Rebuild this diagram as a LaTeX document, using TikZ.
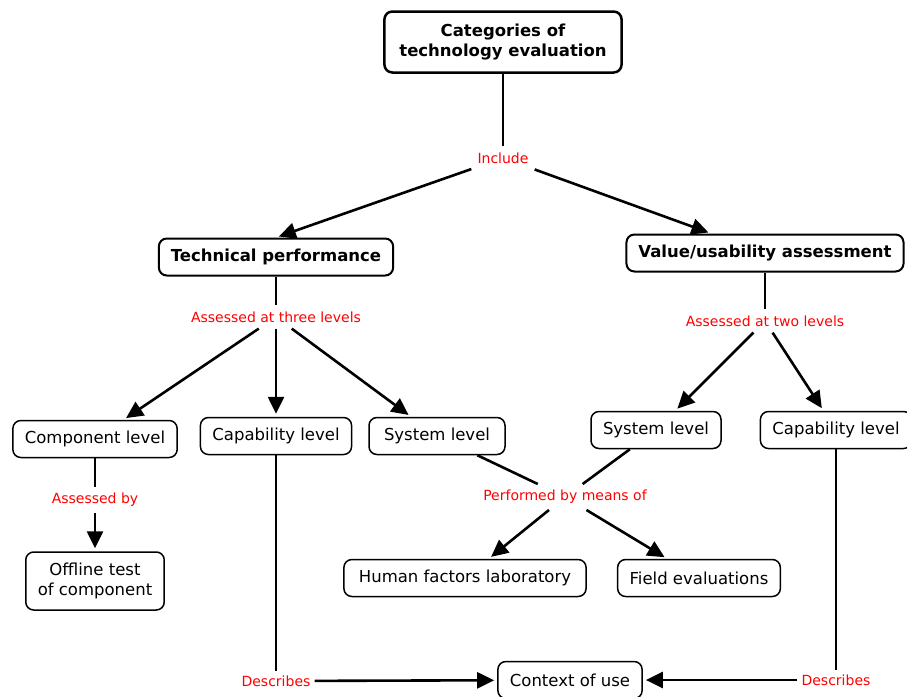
\documentclass[tikz,border=0pt]{standalone}
\usepackage{fontspec}
\setmainfont{DejaVu Sans}
\usetikzlibrary{arrows.meta}
\tikzset{>={Triangle[length=17pt,width=16pt]}}
\tikzset{
  concept/.style={draw,rounded corners=8pt,line width=1.5pt,inner xsep=12pt,minimum height=37pt,align=center,font=\fontsize{16.5}{20}\selectfont},
  mainconcept/.style={concept,line width=2pt,font=\fontsize{16.5}{20}\selectfont\bfseries},
  linkword/.style={text=red,inner sep=6pt,font=\fontsize{14}{16}\selectfont},
  link/.style={line width=2.6pt},
  linkarrow/.style={link,->,shorten >=3pt}
}

\begin{document}
\begin{tikzpicture}[x=1pt,y=-1pt]
\useasboundingbox (0,0) rectangle (907,696);
\node[mainconcept,line width=2.5pt,minimum height=61pt,inner xsep=15pt] (cat) at (503,42) {Categories of\\technology evaluation};
\node[linkword] (incl) at (503,158) {Include};
\node[mainconcept] (tech) at (276,257) {Technical performance};
\node[mainconcept] (value) at (765,253) {Value/usability assessment};
\node[linkword] (three) at (276,317) {Assessed at three levels};
\node[linkword] (two) at (765,321) {Assessed at two levels};
\node[concept] (comp) at (95,439) {Component level};
\node[concept] (capl) at (276,436) {Capability level};
\node[concept,inner xsep=15pt] (sysl) at (437,436) {System level};
\node[concept] (sysr) at (656,430) {System level};
\node[concept] (capr) at (836,430) {Capability level};
\node[linkword] (by) at (95,500) {Assessed by};
\node[concept,minimum height=58pt] (offline) at (95,581) {Offline test\\of component};
\node[linkword] (means) at (565,497) {Performed by means of};
\node[concept,inner xsep=15pt] (human) at (465,578) {Human factors laboratory};
\node[concept] (field) at (699,578) {Field evaluations};
\node[concept] (context) at (570,680) {Context of use};
\node[linkword,inner sep=4pt] (descl) at (276,681) {Describes};
\node[linkword,inner sep=4pt] (descr) at (836,680) {Describes};

\draw[link] (cat) -- (incl);
\draw[linkarrow] (incl) -- (tech.north);
\draw[linkarrow] (incl) -- (value);
\draw[link] (tech) -- (three);
\draw[link] (value) -- (two);
\draw[linkarrow] (three) -- (comp);
\draw[linkarrow] (three) -- (capl);
\draw[linkarrow] (three) -- (sysl);
\draw[linkarrow] (two) -- (sysr);
\draw[linkarrow] (two) -- (capr);
\draw[link] (comp) -- (by);
\draw[linkarrow] (by) -- (offline);
\draw[link] (sysl) -- (means);
\draw[link] (sysr) -- (means);
\draw[linkarrow] (means) -- (human);
\draw[linkarrow] (means) -- (field);
\draw[link] (capl) -- (descl);
\draw[link] (capr) -- (descr);
\draw[linkarrow] (descl) -- (context);
\draw[linkarrow] (descr) -- (context);
\end{tikzpicture}
\end{document}
